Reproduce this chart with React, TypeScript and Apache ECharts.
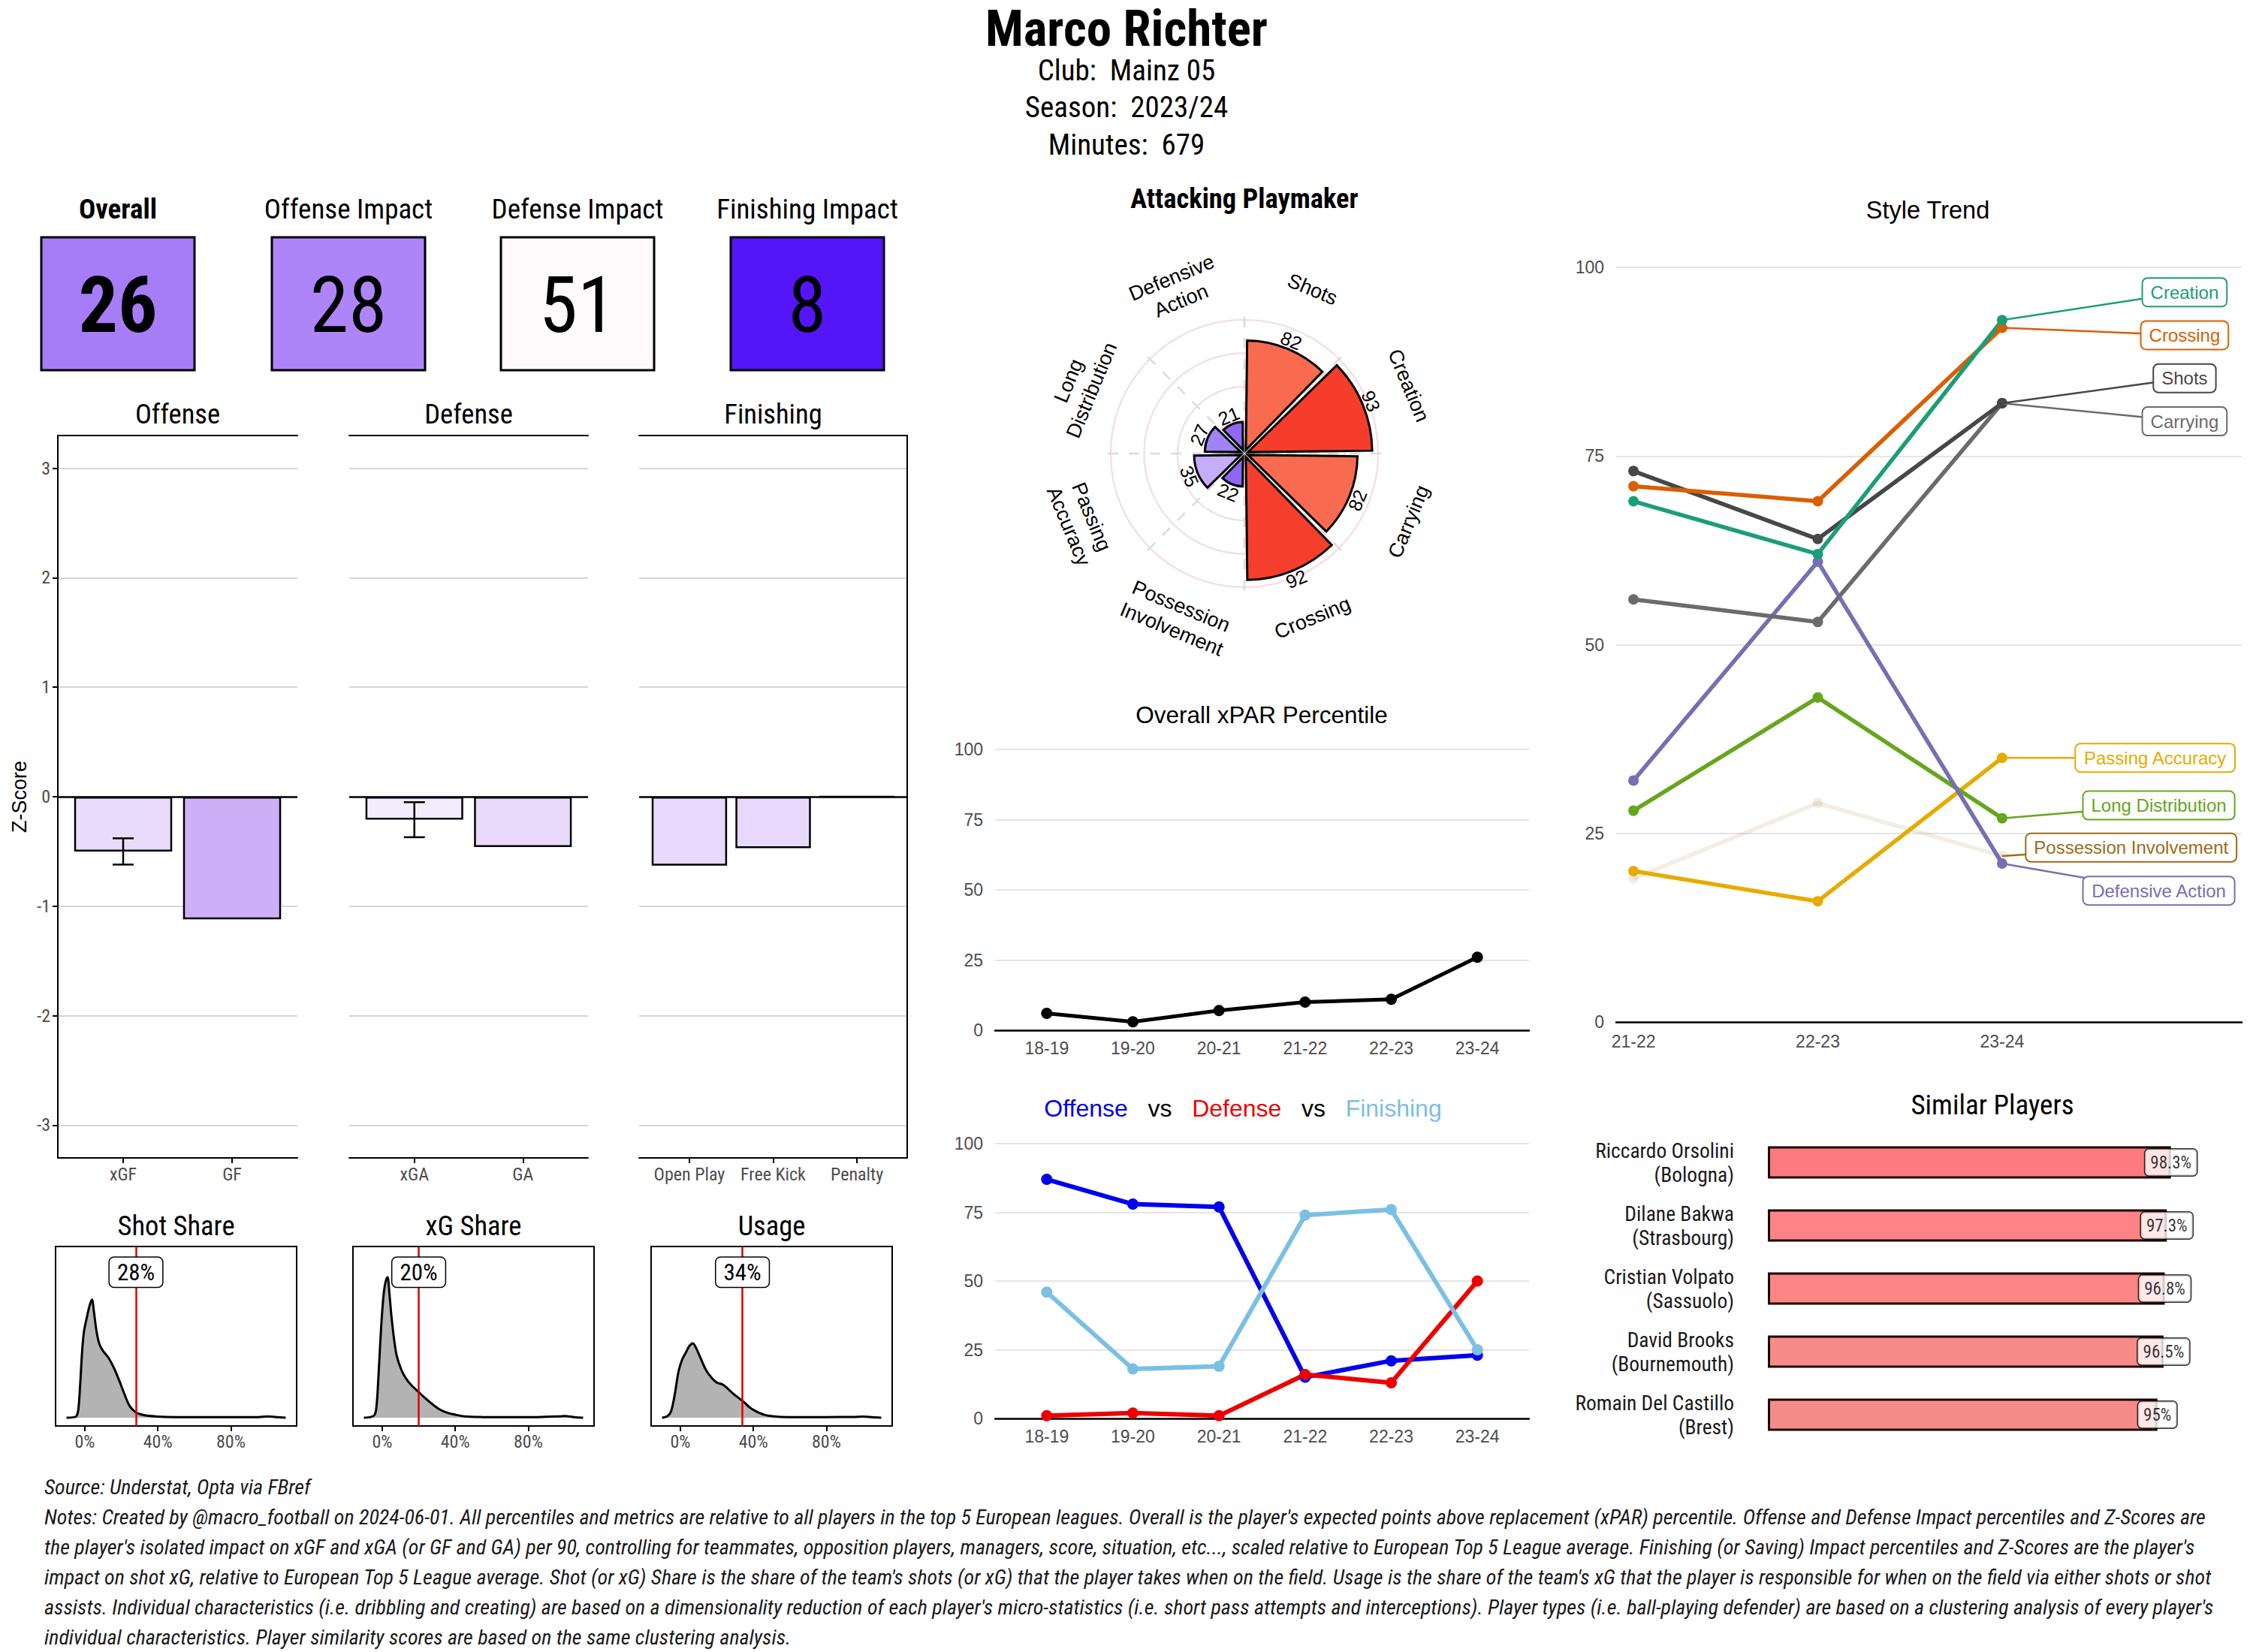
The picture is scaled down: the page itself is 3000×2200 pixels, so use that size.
import React, { useEffect, useRef } from "react";
import * as echarts from "echarts";

// ---------------- DATA ----------------
const PLAYER = "Marco Richter";
const CLUB = "Mainz 05";
const SEASON = "2023/24";
const MINUTES = 679;

const KPI_LABELS = ["Overall", "Offense Impact", "Defense Impact", "Finishing Impact"];
const KPI_VALUES = [26, 28, 51, 8];

const OFFENSE_CATS = ["xGF", "GF"];
const OFFENSE_Z = [-0.5, -1.12];
const OFFENSE_ERR = [[0, -0.62, -0.38]];
const DEFENSE_CATS = ["xGA", "GA"];
const DEFENSE_Z = [-0.21, -0.46];
const DEFENSE_ERR = [[0, -0.37, -0.05]];
const FINISH_CATS = ["Open Play", "Free Kick", "Penalty"];
const FINISH_Z = [-0.63, -0.47, 0];
const Z_TICKS = [-3, -2, -1, 0, 1, 2, 3];

const SHARE_TITLES = ["Shot Share", "xG Share", "Usage"];
const SHARE_VALUES = [28, 20, 34];
const SHARE_TICKS = [0, 40, 80];
const SHOT_DENS_X = [-10, -6, -4.5, -3.5, -2.5, -1.5, -0.5, 1, 2.5, 3.9, 5, 6.5, 8, 10, 13, 16, 19.5, 22, 24.5, 27.5, 30, 34, 40, 50, 65, 80, 95, 100, 105, 110];
const SHOT_DENS_Y = [0, 0.003, 0.01, 0.05, 0.2, 0.38, 0.5, 0.58, 0.65, 0.69, 0.62, 0.5, 0.43, 0.39, 0.35, 0.29, 0.2, 0.13, 0.07, 0.035, 0.022, 0.012, 0.007, 0.004, 0.003, 0.003, 0.004, 0.008, 0.004, 0];
const XG_DENS_X = [-10, -6, -4, -3, -2, -1, 0, 1, 2, 2.9, 4, 5, 6.5, 8, 10.5, 13, 16, 20, 24, 28, 32, 36, 40, 45, 55, 70, 85, 97, 100, 105, 110];
const XG_DENS_Y = [0, 0.005, 0.02, 0.08, 0.25, 0.45, 0.62, 0.74, 0.8, 0.82, 0.72, 0.6, 0.46, 0.36, 0.28, 0.23, 0.19, 0.15, 0.11, 0.075, 0.045, 0.028, 0.018, 0.008, 0.004, 0.003, 0.004, 0.008, 0.01, 0.004, 0];
const USAGE_DENS_X = [-10, -7, -5, -3, -1, 1, 3, 5, 6.8, 8.5, 11, 14, 17, 20, 23, 26, 29, 32, 35, 38, 41, 44, 48, 55, 65, 80, 95, 100, 105, 110];
const USAGE_DENS_Y = [0, 0.01, 0.04, 0.14, 0.27, 0.34, 0.38, 0.42, 0.434, 0.41, 0.35, 0.28, 0.235, 0.205, 0.195, 0.17, 0.14, 0.115, 0.09, 0.06, 0.04, 0.025, 0.012, 0.005, 0.004, 0.004, 0.005, 0.007, 0.004, 0];

const RADAR_CATS = ["Shots", "Creation", "Carrying", "Crossing", "Possession\nInvolvement", "Passing\nAccuracy", "Long\nDistribution", "Defensive\nAction"];
const RADAR_VALUES = [82, 93, 82, 92, 22, 35, 27, 21];

const SEASONS = ["18-19", "19-20", "20-21", "21-22", "22-23", "23-24"];
const XPAR = [6, 3, 7, 10, 11, 26];
const OFFENSE_PCT = [87, 78, 77, 15, 21, 23];
const DEFENSE_PCT = [1, 2, 1, 16, 13, 50];
const FINISHING_PCT = [46, 18, 19, 74, 76, 25];
const PCT_TICKS = [0, 1, 2, 3, 4, 5];

const STYLE_SEASONS = ["21-22", "22-23", "23-24"];
const STYLE_NAMES = ["Possession Involvement", "Passing Accuracy", "Long Distribution", "Defensive Action", "Carrying", "Shots", "Crossing", "Creation"];
const STYLE_POSSESSION = [19, 29, 22];
const STYLE_PASSING = [20, 16, 35];
const STYLE_LONG = [28, 43, 27];
const STYLE_DEFENSIVE = [32, 61, 21];
const STYLE_CARRYING = [56, 53, 82];
const STYLE_SHOTS = [73, 64, 82];
const STYLE_CROSSING = [71, 69, 92];
const STYLE_CREATION = [69, 62, 93];
const STYLE_SERIES = [STYLE_POSSESSION, STYLE_PASSING, STYLE_LONG, STYLE_DEFENSIVE, STYLE_CARRYING, STYLE_SHOTS, STYLE_CROSSING, STYLE_CREATION];

const SIMILAR_NAMES = ["Riccardo Orsolini", "Dilane Bakwa", "Cristian Volpato", "David Brooks", "Romain Del Castillo"];
const SIMILAR_CLUBS = ["Bologna", "Strasbourg", "Sassuolo", "Bournemouth", "Brest"];
const SIMILAR_SCORES = [98.3, 97.3, 96.8, 96.5, 95];

const SOURCE = "Source: Understat, Opta via FBref";
const NOTES = [
  "Notes: Created by @macro_football on 2024-06-01. All percentiles and metrics are relative to all players in the top 5 European leagues. Overall is the player's expected points above replacement (xPAR) percentile. Offense and Defense Impact percentiles and Z-Scores are",
  "the player's isolated impact on xGF and xGA (or GF and GA) per 90, controlling for teammates, opposition players, managers, score, situation, etc..., scaled relative to European Top 5 League average. Finishing (or Saving) Impact percentiles and Z-Scores are the player's",
  "impact on shot xG, relative to European Top 5 League average. Shot (or xG) Share is the share of the team's shots (or xG) that the player takes when on the field. Usage is the share of the team's xG that the player is responsible for when on the field via either shots or shot",
  "assists. Individual characteristics (i.e. dribbling and creating) are based on a dimensionality reduction of each player's micro-statistics (i.e. short pass attempts and interceptions). Player types (i.e. ball-playing defender) are based on a clustering analysis of every player's",
  "individual characteristics. Player similarity scores are based on the same clustering analysis.",
];

// ---------------- STYLE / LAYOUT ----------------
const COND = "'Roboto Condensed', 'Liberation Sans Narrow', 'Arial Narrow', 'DejaVu Sans Condensed', Roboto, sans-serif";
const ARIAL = "'Liberation Sans', Arial, Helvetica, sans-serif";
const AXIS_GRAY = "#4d4d4d";

const KPI_COLORS = ["#a67df7", "#ad85f9", "#fef9fa", "#5515f9"];
const KPI_BOX_X = [55, 362, 667, 973];
const OFFENSE_COLORS = ["#e9dbfc", "#cbb0f8"];
const DEFENSE_COLORS = ["#f1edfc", "#e9dafc"];
const FINISH_COLORS = ["#e8d8fc", "#e8d9fc", "#e8d9fc"];
const Z_LAYOUT = [
  { left: 77, width: 319, title: "Offense" },
  { left: 465, width: 318, title: "Defense" },
  { left: 851, width: 357, title: "Finishing" },
];
const DENS_LAYOUT = [74, 470, 867];
const RADAR_COLORS = ["#f96a4f", "#f63d2c", "#f96b50", "#f63e2c", "#8e67f3", "#c6adf8", "#a283f6", "#9068f3"];
const STYLE_COLORS = ["#9a6c1a", "#E6AB02", "#66A61E", "#7570B3", "#6b6b6b", "#474747", "#D95F02", "#1B9E77"];
const STYLE_LABEL_POS = [[2.70, 23.1], [2.83, 35.0], [2.85, 28.7], [2.85, 17.4], [2.99, 79.6], [2.99, 85.3], [2.99, 91.0], [2.99, 96.7]];
const SIMILAR_COLORS = ["#fd7b80", "#fd8387", "#fc8585", "#f88a87", "#f68c89"];

function buildOption(): any {
  const grids: any[] = [];
  const xAxes: any[] = [];
  const yAxes: any[] = [];
  const series: any[] = [];
  const addGrid = (g: any) => (grids.push(g), grids.length - 1);
  const addX = (a: any) => (xAxes.push(a), xAxes.length - 1);
  const addY = (a: any) => (yAxes.push(a), yAxes.length - 1);
  const blackLine = { color: "#000", width: 2 };

  // ---- Z-score panels ----
  const zPanels = [
    { cats: OFFENSE_CATS, vals: OFFENSE_Z, colors: OFFENSE_COLORS, err: OFFENSE_ERR },
    { cats: DEFENSE_CATS, vals: DEFENSE_Z, colors: DEFENSE_COLORS, err: DEFENSE_ERR },
    { cats: FINISH_CATS, vals: FINISH_Z, colors: FINISH_COLORS, err: [] as number[][] },
  ];
  zPanels.forEach((p, k) => {
    const L = Z_LAYOUT[k];
    const gi = addGrid({ left: L.left, top: 580, width: L.width, height: 962 });
    const n = p.cats.length;
    const idx = p.cats.map((_, i) => i);
    const unit = L.width / (n - 1 + 1.2);
    const xi = addX({
      type: "value", gridIndex: gi, min: -0.6, max: n - 0.4,
      axisLine: { show: true, onZero: false, lineStyle: blackLine },
      axisTick: { show: true, customValues: idx, length: 7, lineStyle: blackLine },
      axisLabel: { customValues: idx, formatter: (v: number) => p.cats[Math.round(v)], color: AXIS_GRAY, fontFamily: COND, fontSize: 24, margin: 10 },
      splitLine: { show: false },
    });
    addX({
      type: "value", gridIndex: gi, position: "top", min: -0.6, max: n - 0.4,
      axisLine: { show: true, onZero: false, lineStyle: blackLine },
      axisTick: { show: false }, axisLabel: { show: false }, splitLine: { show: false },
    });
    const yi = addY({
      type: "value", gridIndex: gi, min: -3.3, max: 3.3, splitNumber: 6,
      axisLine: { show: k === 0, onZero: false, lineStyle: blackLine },
      axisTick: { show: k === 0, customValues: Z_TICKS, length: 7, lineStyle: blackLine },
      axisLabel: { show: k === 0, customValues: Z_TICKS, color: AXIS_GRAY, fontFamily: COND, fontSize: 24, margin: 10 },
      splitLine: { show: true, lineStyle: { color: "#c9c9c9", width: 1.5 } },
      name: k === 0 ? "Z-Score" : "", nameLocation: "middle", nameGap: 38, nameRotate: 90,
      nameTextStyle: { fontFamily: ARIAL, fontSize: 27, color: "#000" },
    });
    if (k === 2) {
      addY({
        type: "value", gridIndex: gi, position: "right", min: -3.3, max: 3.3,
        axisLine: { show: true, onZero: false, lineStyle: blackLine },
        axisTick: { show: false }, axisLabel: { show: false }, splitLine: { show: false },
      });
    }
    series.push({
      type: "bar", xAxisIndex: xi, yAxisIndex: yi, barWidth: unit * 0.9,
      data: p.vals.map((v, i) => ({ value: [i, v], itemStyle: { color: p.colors[i] } })),
      itemStyle: { borderColor: "#000", borderWidth: 2.5 },
      markLine: { silent: true, symbol: ["none", "none"], label: { show: false }, lineStyle: { color: "#000", width: 2.5, type: "solid" }, data: [{ yAxis: 0 }] },
    });
    if (p.err.length) {
      series.push({
        type: "custom", xAxisIndex: xi, yAxisIndex: yi, data: p.err, z: 5,
        renderItem: (_params: any, api: any) => {
          const x = api.value(0);
          const a = api.coord([x, api.value(1)]);
          const b = api.coord([x, api.value(2)]);
          const hw = 14;
          const st = { stroke: "#000", lineWidth: 2.5 };
          return {
            type: "group",
            children: [
              { type: "line", shape: { x1: a[0], y1: a[1], x2: b[0], y2: b[1] }, style: st },
              { type: "line", shape: { x1: a[0] - hw, y1: a[1], x2: a[0] + hw, y2: a[1] }, style: st },
              { type: "line", shape: { x1: b[0] - hw, y1: b[1], x2: b[0] + hw, y2: b[1] }, style: st },
            ],
          };
        },
      });
    }
  });

  // ---- density panels ----
  const dens = [
    [SHOT_DENS_X, SHOT_DENS_Y],
    [XG_DENS_X, XG_DENS_Y],
    [USAGE_DENS_X, USAGE_DENS_Y],
  ];
  dens.forEach((d, k) => {
    const gi = addGrid({ left: DENS_LAYOUT[k], top: 1660, width: 321, height: 239, show: true, borderColor: "#000", borderWidth: 2 });
    const xi = addX({
      type: "value", gridIndex: gi, min: -16, max: 116,
      axisLine: { show: false, onZero: false },
      axisTick: { show: true, customValues: SHARE_TICKS, length: 7, lineStyle: blackLine },
      axisLabel: { customValues: SHARE_TICKS, formatter: (v: number) => `${v}%`, color: AXIS_GRAY, fontFamily: COND, fontSize: 24, margin: 9 },
      splitLine: { show: false },
    });
    const yi = addY({ type: "value", gridIndex: gi, min: -0.048, max: 1, show: false });
    series.push({
      type: "line", xAxisIndex: xi, yAxisIndex: yi, smooth: 0.35, symbol: "none",
      data: d[0].map((x, i) => [x, d[1][i]]),
      lineStyle: { color: "#000", width: 3 },
      areaStyle: { color: "#b3b3b3", opacity: 1 },
      markLine: { silent: true, symbol: ["none", "none"], label: { show: false }, lineStyle: { color: "#e00000", width: 2.5, type: "solid" }, data: [{ xAxis: SHARE_VALUES[k] }] },
      markPoint: {
        silent: true, symbol: "rect", symbolSize: 1, itemStyle: { color: "rgba(0,0,0,0)" },
        data: [{ coord: [SHARE_VALUES[k], 0.85], value: SHARE_VALUES[k] }],
        label: { show: true, position: "inside", formatter: `${SHARE_VALUES[k]}%`, color: "#000", fontFamily: COND, fontSize: 31, backgroundColor: "#fff", borderColor: "#000", borderWidth: 1.5, borderRadius: 6, padding: [4, 10] },
      },
    });
  });

  // ---- line charts (middle column) ----
  const pctX = (gi: number) => addX({
    type: "value", gridIndex: gi, min: -0.6, max: 5.6,
    axisLine: { show: true, onZero: false, lineStyle: { color: "#000", width: 2.5 } },
    axisTick: { show: false },
    axisLabel: { customValues: PCT_TICKS, formatter: (v: number) => SEASONS[Math.round(v)], color: AXIS_GRAY, fontFamily: ARIAL, fontSize: 23, margin: 12 },
    splitLine: { show: false },
  });
  const pctY = (gi: number) => addY({
    type: "value", gridIndex: gi, min: 0, max: 100, interval: 25,
    axisLine: { show: false, onZero: false }, axisTick: { show: false },
    axisLabel: { color: AXIS_GRAY, fontFamily: ARIAL, fontSize: 23, margin: 16 },
    splitLine: { show: true, lineStyle: { color: "#dcdcdc", width: 1.5 } },
  });
  const g6 = addGrid({ left: 1325, top: 998, width: 711, height: 374 });
  const x6 = pctX(g6), y6 = pctY(g6);
  series.push({ type: "line", xAxisIndex: x6, yAxisIndex: y6, data: XPAR.map((v, i) => [i, v]), symbol: "circle", symbolSize: 15, lineStyle: { color: "#000", width: 5 }, itemStyle: { color: "#000" } });
  const g7 = addGrid({ left: 1325, top: 1523, width: 711, height: 366 });
  const x7 = pctX(g7), y7 = pctY(g7);
  [[OFFENSE_PCT, "#0000ee"], [DEFENSE_PCT, "#ee0000"], [FINISHING_PCT, "#7bc0e4"]].forEach(([arr, col]: any) => {
    series.push({ type: "line", xAxisIndex: x7, yAxisIndex: y7, data: arr.map((v: number, i: number) => [i, v]), symbol: "circle", symbolSize: 15, lineStyle: { color: col, width: 6 }, itemStyle: { color: col } });
  });

  // ---- style trend ----
  const g8 = addGrid({ left: 2152, top: 356, width: 833, height: 1005 });
  const x8 = addX({
    type: "value", gridIndex: g8, min: -0.094, max: 3.3,
    axisLine: { show: true, onZero: false, lineStyle: { color: "#000", width: 2.5 } },
    axisTick: { show: false },
    axisLabel: { customValues: [0, 1, 2], formatter: (v: number) => STYLE_SEASONS[Math.round(v)], color: AXIS_GRAY, fontFamily: ARIAL, fontSize: 23, margin: 14 },
    splitLine: { show: false },
  });
  const y8 = addY({
    type: "value", gridIndex: g8, min: 0, max: 100, interval: 25,
    axisLine: { show: false, onZero: false }, axisTick: { show: false },
    axisLabel: { color: AXIS_GRAY, fontFamily: ARIAL, fontSize: 23, margin: 16 },
    splitLine: { show: true, lineStyle: { color: "#dcdcdc", width: 1.5 } },
  });
  STYLE_SERIES.forEach((arr, k) => {
    const faint = k === 0;
    series.push({
      type: "line", xAxisIndex: x8, yAxisIndex: y8, data: arr.map((v, i) => [i, v]),
      symbol: "circle", symbolSize: 14,
      lineStyle: { color: STYLE_COLORS[k], width: 5.5, opacity: faint ? 0.12 : 1 },
      itemStyle: { color: STYLE_COLORS[k], opacity: faint ? 0.12 : 1 },
    });
  });
  series.push({
    type: "custom", xAxisIndex: x8, yAxisIndex: y8, z: 6,
    data: STYLE_SERIES.map((arr, k) => [STYLE_LABEL_POS[k][0], STYLE_LABEL_POS[k][1], 2, arr[2], k]),
    renderItem: (_params: any, api: any) => {
      const k = api.value(4);
      const L = api.coord([api.value(0), api.value(1)]);
      const P = api.coord([api.value(2), api.value(3)]);
      const col = STYLE_COLORS[k];
      return {
        type: "group",
        children: [
          { type: "line", shape: { x1: P[0], y1: P[1], x2: L[0], y2: L[1] }, style: { stroke: col, lineWidth: 2.5 } },
          {
            type: "text", x: L[0], y: L[1],
            style: { text: STYLE_NAMES[k], fill: col, fontSize: 24, fontFamily: ARIAL, align: "center", verticalAlign: "middle", backgroundColor: "#fff", borderColor: col, borderWidth: 2, borderRadius: 6, padding: [6, 10] },
          },
        ],
      };
    },
  });

  // ---- similar players ----
  const g9 = addGrid({ left: 2354, top: 1506, width: 546, height: 420 });
  const x9 = addX({ type: "value", gridIndex: g9, min: 0, max: 100, show: false });
  const y9 = addY({
    type: "category", gridIndex: g9, inverse: true,
    data: SIMILAR_NAMES.map((n, i) => `${n}\n(${SIMILAR_CLUBS[i]})`),
    axisLine: { show: false }, axisTick: { show: false },
    axisLabel: { color: "#1a1a1a", fontFamily: COND, fontSize: 27.5, lineHeight: 32, align: "right", margin: 45 },
    splitLine: { show: false },
  });
  series.push({
    type: "bar", xAxisIndex: x9, yAxisIndex: y9, barWidth: 43,
    data: SIMILAR_SCORES.map((v, i) => ({ value: v, itemStyle: { color: SIMILAR_COLORS[i] } })),
    itemStyle: { borderColor: "#1a0000", borderWidth: 3 },
  });
  series.push({
    type: "scatter", xAxisIndex: x9, yAxisIndex: y9, symbolSize: 1, z: 6,
    itemStyle: { color: "rgba(0,0,0,0)" },
    data: SIMILAR_SCORES.map((v, i) => [v, i]),
    label: { show: true, position: "inside", formatter: (p: any) => `${SIMILAR_SCORES[p.dataIndex]}%`, color: "#000", fontFamily: COND, fontSize: 23, backgroundColor: "#fff", borderColor: "#000", borderWidth: 1.5, borderRadius: 5, padding: [6, 7] },
  });

  // ---- radar (polar) ----
  const compassRot = (theta: number) => {
    let t = theta % 180;
    if (t > 90) t -= 180;
    return (-t * Math.PI) / 180;
  };
  series.push({
    type: "custom", coordinateSystem: "polar", polarIndex: 0, z: 2,
    data: RADAR_CATS.map((_, i) => [0, i]),
    renderItem: (_params: any, api: any) => {
      const i = api.value(1);
      const a = api.coord([0, i]);
      const b = api.coord([110, i]);
      return { type: "line", shape: { x1: a[0], y1: a[1], x2: b[0], y2: b[1] }, style: { stroke: "#dcdcdc", lineWidth: 2.5, lineDash: [14, 14] } };
    },
  });
  series.push({
    type: "custom", coordinateSystem: "polar", polarIndex: 0, z: 3,
    data: RADAR_VALUES.map((v, i) => [v, i]),
    renderItem: (_params: any, api: any) => {
      const v = api.value(0);
      const i = api.value(1);
      const c = api.coord([0, 0]);
      const pa = api.coord([100, i + 0.015]);
      const pb = api.coord([100, i + 0.985]);
      let a0 = Math.atan2(pa[1] - c[1], pa[0] - c[0]);
      let a1 = Math.atan2(pb[1] - c[1], pb[0] - c[0]);
      if (a1 < a0) a1 += Math.PI * 2;
      const pm = api.coord([v, i + 0.5]);
      const r = Math.hypot(pm[0] - c[0], pm[1] - c[1]);
      const mid = (a0 + a1) / 2;
      const d = 5;
      const pl = api.coord([v + 9.5, i + 0.5]);
      const pc = api.coord([133, i + 0.5]);
      const theta = (i + 0.5) * 45;
      const rot = compassRot(theta);
      return {
        type: "group",
        children: [
          {
            type: "sector",
            shape: { cx: c[0] + d * Math.cos(mid), cy: c[1] + d * Math.sin(mid), r0: 0, r, startAngle: a0, endAngle: a1, clockwise: true },
            style: { fill: RADAR_COLORS[i], stroke: "#000", lineWidth: 3 },
          },
          { type: "text", x: pl[0], y: pl[1], rotation: rot, style: { text: String(v), fill: "#000", fontSize: 25, fontFamily: ARIAL, align: "center", verticalAlign: "middle" } },
          { type: "text", x: pc[0], y: pc[1], rotation: rot, style: { text: RADAR_CATS[i], fill: "#000", fontSize: 27, lineHeight: 33, fontFamily: ARIAL, align: "center", verticalAlign: "middle" } },
        ],
      };
    },
  });

  // ---- graphics (titles, KPI boxes, notes) ----
  const T = (x: number, y: number, text: string, fontSize: number, o: any = {}) => ({
    type: "text", x, y, silent: true,
    style: { text, fontSize, lineHeight: o.lh || undefined, fontFamily: o.family || COND, fontWeight: o.weight || "normal", fontStyle: o.fstyle || "normal", fill: o.fill || "#000", align: o.align || "center", verticalAlign: "middle" },
  });
  const graphic: any[] = [
    T(1500, 38, PLAYER, 67, { weight: "bold", lh: 56 }),
    T(1500, 94, `Club:  ${CLUB}`, 39, { lh: 40 }),
    T(1500, 143, `Season:  ${SEASON}`, 39, { lh: 40 }),
    T(1500, 193, `Minutes:  ${MINUTES}`, 39, { lh: 40 }),
    T(1657, 264, "Attacking Playmaker", 36.5, { weight: "bold" }),
    T(1680, 952, "Overall xPAR Percentile", 31.5, { family: ARIAL }),
    {
      type: "text", x: 1655, y: 1476, silent: true,
      style: {
        text: "{o|Offense}   {v|vs}   {d|Defense}   {v|vs}   {f|Finishing}",
        fontSize: 32, fontFamily: ARIAL, align: "center", verticalAlign: "middle",
        rich: {
          o: { fill: "#0000ee", fontSize: 32, fontFamily: ARIAL },
          v: { fill: "#000", fontSize: 32, fontFamily: ARIAL },
          d: { fill: "#ee0000", fontSize: 32, fontFamily: ARIAL },
          f: { fill: "#7bc0e4", fontSize: 32, fontFamily: ARIAL },
        },
      },
    },
    T(2567, 280, "Style Trend", 32.5, { family: ARIAL }),
    T(2653, 1471, "Similar Players", 37),
  ];
  Z_LAYOUT.forEach((L) => graphic.push(T(L.left + L.width / 2, 551, L.title, 36.5)));
  SHARE_TITLES.forEach((t, k) => graphic.push(T(DENS_LAYOUT[k] + 160.5, 1632, t, 36.5)));
  KPI_LABELS.forEach((lab, k) => {
    const x = KPI_BOX_X[k];
    graphic.push(T(x + 102, 278, lab, 37, { weight: k === 0 ? "bold" : "normal" }));
    graphic.push({ type: "rect", silent: true, shape: { x, y: 316, width: 204, height: 177 }, style: { fill: KPI_COLORS[k], stroke: "#000", lineWidth: 3 } });
    graphic.push(T(x + 102, 406, String(KPI_VALUES[k]), 104, { weight: k === 0 ? "bold" : "normal" }));
  });
  graphic.push(T(59, 1980, SOURCE, 28, { align: "left", fstyle: "italic", fill: "#1a1a1a" }));
  NOTES.forEach((line, i) => graphic.push(T(59, 2020 + i * 40.2, line, 28, { align: "left", fstyle: "italic", fill: "#1a1a1a" })));

  return {
    animation: false,
    backgroundColor: "#ffffff",
    grid: grids,
    xAxis: xAxes,
    yAxis: yAxes,
    polar: [{ center: [1657, 604], radius: [0, 178] }],
    radiusAxis: [{
      polarIndex: 0, type: "value", min: 0, max: 100, interval: 25,
      axisLine: { show: false }, axisTick: { show: false }, axisLabel: { show: false },
      splitLine: { show: true, lineStyle: { color: "#f4e0e4", width: 2.5 } },
    }],
    angleAxis: [{
      polarIndex: 0, type: "value", min: 0, max: 8, startAngle: 90, clockwise: true,
      axisLine: { show: false }, axisTick: { show: false }, axisLabel: { show: false }, splitLine: { show: false },
    }],
    series,
    graphic,
  };
}

export default function App() {
  const ref = useRef<HTMLDivElement>(null);
  useEffect(() => {
    if (!ref.current) return;
    const chart = echarts.init(ref.current, undefined, { renderer: "svg" });
    chart.setOption(buildOption());
    return () => chart.dispose();
  }, []);
  return <div ref={ref} style={{ position: "absolute", left: 0, top: 0, width: 3000, height: 2200, background: "#fff" }} />;
}
